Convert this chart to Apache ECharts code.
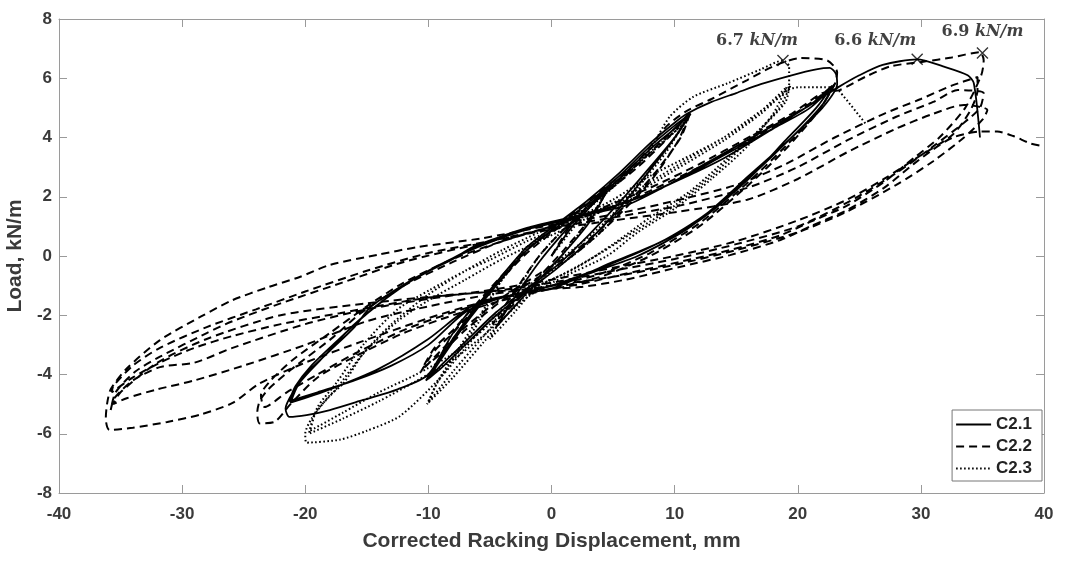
<!DOCTYPE html>
<html>
<head>
<meta charset="utf-8">
<script src="https://cdn.jsdelivr.net/npm/echarts@6.0.0/dist/echarts.min.js"></script>
<style>
html,body{margin:0;padding:0;background:#fff;}
#chart{width:1065px;height:563px;}
</style>
</head>
<body>
<div id="chart"></div>
<script>
// ---- data (displacement mm, load kN/m) ----
const seriesNames = ['C2.1', 'C2.2', 'C2.3'];

const c21 = [
[0,0],[1.5,0.9],[3,1.6],[4.5,2.2],[3,1.1],[1,0.1],[-1,-0.8],[-3,-1.7],[-4.5,-2.4],[-3,-1.4],[-1,-0.2],[1,0.8],
[3,1.7],[5.5,2.6],[8,3.6],[10,4.3],[11.2,4.75],[10,4.0],[8,3.0],[5.5,1.8],[3,0.7],[0.5,-0.3],[-2,-1.1],[-4.5,-1.9],[-7,-2.9],[-9,-3.7],[-10,-4.15],
[-9,-3.5],[-7,-2.3],[-4.5,-1.0],[-2,0.2],[0.5,1.0],[3,1.8],[5.5,2.7],[8,3.7],[10,4.4],[11.3,4.8],[10.2,4.1],[8,2.9],[5.5,1.6],[3,0.5],[0.5,-0.4],[-2,-1.2],[-4.5,-2.0],[-7,-3.0],[-9,-3.8],[-10.2,-4.2],
[-9,-3.4],[-7,-2.2],[-4.5,-0.9],[-2,0.3],[0.5,1.1],[3,1.9],[5.5,2.8],[8,3.8],[10,4.5],[11,4.8],
[13,5.2],[15,5.5],[17,5.8],[19.5,6.1],[21.5,6.3],[22.6,6.35],[23.1,6.15],[23.2,5.8],
[22,5.0],[20,4.2],[17,3.0],[14,1.9],[11,0.9],[7,0.0],[3,-0.6],[0,-1.1],[-3,-1.3],[-6,-1.6],[-8,-2.6],[-10,-4.0],[-12.5,-4.5],[-15.3,-4.86],[-18,-5.2],[-19.9,-5.37],[-21.3,-5.43],[-21.6,-5.15],
[-21,-4.6],[-20,-4.0],[-18,-3.2],[-16,-2.4],[-14.7,-1.72],[-12.5,-1.1],[-10.9,-0.7],[-8,-0.1],[-6.4,0.3],[-3,0.8],[0,1.1],[2.3,1.35],[6,1.7],[9,2.3],[12,3.0],[15,3.7],[18,4.4],[21,5.1],[22.8,5.75],
[21.5,5.0],[19,3.9],[16,2.6],[12,1.2],[8,0.3],[4,-0.4],[0,-1.0],[-4,-1.4],[-7,-1.9],[-10,-3.0],[-13,-3.7],[-16,-4.2],[-19,-4.6],[-21.3,-4.9],
[-20.8,-4.4],[-19.5,-3.7],[-17.5,-2.9],[-15,-1.95],[-12,-1.0],[-9,-0.3],[-6,0.35],[-2,0.95],[2,1.35],[6,1.8],[10,2.5],[14,3.4],[18,4.3],[21,5.0],[23,5.8],
[22,5.1],[19.5,4.0],[16,2.7],[12.5,1.4],[9,0.5],[5,-0.2],[1,-0.9],[-3,-1.3],[-6.5,-1.7],[-10,-2.8],[-14,-3.8],[-18,-4.5],[-21.2,-4.95],
[-20.5,-4.3],[-18.5,-3.4],[-16,-2.3],[-13,-1.3],[-10,-0.5],[-6,0.3],[-2,0.9],[2,1.3],[6,1.8],[10,2.5],[14,3.3],[18,4.3],[21,5.1],[23.3,5.7],
[25,6.1],[26.9,6.45],[29.7,6.64],[31.8,6.4],[33.8,6.1],[34.3,5.83],[34.8,4.0]
];

const c22 = [
[0,0],[1.5,1.0],[3,1.7],[4.8,2.4],[3,1.2],[1,0.2],[-1,-0.7],[-3,-1.6],[-4.8,-2.3],[-3,-1.2],[-1,0.0],[1,0.9],
[4,2.0],[7,3.0],[9.5,4.0],[11.3,4.9],[10.5,4.0],[8,2.6],[5,1.3],[2,0.2],[-1,-0.6],[-4,-1.4],[-7,-2.4],[-9,-3.2],[-10.6,-3.9],
[-9.5,-3.2],[-8,-2.6],[-5,-1.2],[-2,0.1],[1,1.1],[4,2.1],[7,3.1],[9.5,4.1],[11.2,4.8],[10.3,3.9],[8,2.5],[5,1.2],[2,0.1],[-1,-0.7],[-4,-1.5],[-7,-2.5],[-9,-3.3],[-10.5,-3.8],
[-9.5,-3.1],[-8,-2.5],[-5,-1.1],[-2,0.2],[1,1.2],[4,2.2],[7,3.2],[9.4,4.4],
[11,4.9],[13,5.3],[15.9,5.94],[18,6.4],[20.2,6.68],[22.4,6.6],[23.2,6.2],[23,5.8],
[21.5,4.8],[19,3.6],[16,2.4],[12,1.0],[8,0.0],[4,-0.7],[0,-1.1],[-4,-1.5],[-8,-2.0],[-12,-2.6],[-16,-3.4],[-19,-4.1],[-21.2,-5.0],[-22.5,-5.6],[-23.7,-5.65],[-23.9,-5.3],
[-23.7,-4.9],[-23,-4.5],[-21.2,-3.85],[-17.7,-2.73],[-15.5,-1.93],[-12,-1.0],[-8,-0.2],[-4,0.5],[0,1.0],[4,1.5],[8,2.2],[12,3.0],[16,3.9],[19,4.6],[21.5,5.3],[23,5.8],
[21.7,4.9],[19,3.7],[16,2.5],[12,1.1],[8,0.1],[4,-0.6],[0,-1.0],[-4,-1.4],[-8,-1.9],[-12,-2.5],[-16,-3.3],[-19,-4.0],[-21.5,-4.6],[-23.3,-5.1],[-23.6,-4.7],
[-22.8,-4.2],[-21,-3.5],[-18,-2.6],[-15,-1.7],[-12,-0.9],[-8,-0.1],[-4,0.5],[0,1.0],[4,1.6],[8,2.3],[12,3.1],[16,4.0],[19.5,4.8],[22,5.5],
[23.4,5.6],[25.5,6.05],[27.5,6.4],[30.2,6.56],[32.5,6.7],[34.8,6.88],[35.1,6.6],[34.9,6.1],
[33.6,5.0],[31.5,4.0],[29.4,3.3],[27,2.5],[24,1.7],[21,1.15],[18.6,0.7],[14.5,0.2],[10.4,-0.2],[6,-0.6],[2.3,-0.95],[-2,-1.25],[-6,-1.6],[-10,-2.1],[-15.5,-2.9],[-20,-3.6],[-23.7,-4.3],[-25.9,-4.96],[-28.5,-5.35],[-31.2,-5.6],[-34,-5.8],[-35.9,-5.87],[-36.2,-5.5],
[-36.1,-5.0],[-35.8,-4.5],[-34.5,-3.8],[-31.8,-2.84],[-28.5,-2.05],[-25.9,-1.49],[-23,-1.05],[-20.4,-0.7],[-18,-0.3],[-14,0.05],[-10.9,0.3],[-5.6,0.6],[0,1.05],[5,1.4],[10.4,1.9],[15,2.4],[19,3.1],[23,4.0],[27,4.8],[30,5.3],[32.5,5.75],[34.6,6.04],
[34.6,5.6],[34,4.9],[32.6,4.1],[30,3.4],[27,2.6],[24,1.9],[20,1.2],[15,0.5],[10,0.0],[5,-0.4],[0,-0.8],[-5,-1.15],[-10,-1.45],[-15,-1.8],[-20,-2.3],[-25.9,-3.1],[-29,-3.6],[-31.8,-3.75],[-34,-4.2],[-35.5,-4.8],[-35.8,-5.2],
[-35.4,-4.6],[-33.8,-3.9],[-31.8,-3.4],[-28,-2.6],[-25.9,-2.2],[-22,-1.6],[-17,-0.9],[-12,-0.2],[-6,0.4],[0,0.95],[5,1.3],[10.4,1.7],[15.9,2.3],[20,3.0],[24,3.9],[28,4.7],[31,5.2],[33,5.6],[35.1,5.5],
[34.8,5.0],[33.5,4.5],[31,3.7],[28,2.8],[24,1.8],[20,1.0],[15,0.4],[10,-0.1],[5,-0.5],[0,-0.9],[-5,-1.2],[-10,-1.4],[-17.2,-1.93],[-22,-2.3],[-25.9,-2.7],[-29,-3.1],[-31.8,-3.6],[-34,-4.1],[-35.7,-4.6],
[-35.6,-4.4],[-34,-3.7],[-31.8,-3.1],[-28,-2.4],[-24,-1.8],[-20,-1.2],[-15,-0.5],[-10,0.1],[-5,0.5],[0,0.9],[5,1.2],[10.4,1.5],[15.9,1.9],[20,2.6],[24,3.5],[28,4.3],[31,4.8],[33.5,5.1],[35.4,4.93],
[35,4.6],[33.5,4.0],[31,3.2],[28,2.4],[24,1.5],[20,0.8],[15,0.2],[10,-0.3],[5,-0.7],[0,-1.0],[-5,-1.3],[-10,-1.7],[-15,-2.2],[-20,-3.0],[-25,-3.7],[-29,-4.2],[-32,-4.5],[-34.5,-4.8],[-35.6,-5.0],
[-35,-4.6],[-32,-3.6],[-28,-2.8],[-22,-2.0],[-15,-1.6],[-8,-1.3],[-3,-1.15],[2.3,-1.05],[6,-0.8],[10.4,-0.37],[14.5,0.03],[18.6,0.54],[21,1.0],[24,1.55],[27,2.3],[29.4,3.1],[31,3.6],[32.6,4.0],[34.8,4.2],[36.2,4.2],[37.5,4.05],[38.9,3.8],[40,3.7]
];

const c23 = [
[0,0],[1.5,0.8],[3,1.6],[5,2.5],[3,1.2],[1,0.1],[-1,-0.9],[-3,-1.9],[-5,-2.8],[-3,-1.3],[-1,0.0],[1,0.9],
[3,1.6],[5.5,2.5],[8,3.5],[10,4.2],[11,4.6],[9.5,3.7],[7,2.4],[4.5,1.2],[2,0.3],[-0.5,-0.5],[-3,-1.5],[-5.5,-2.7],[-8,-3.9],[-10.1,-5.0],
[-9.3,-4.3],[-7.5,-3.2],[-5.8,-2.16],[-4.2,-0.9],[-2,0.3],[1,1.1],[4,2.0],[7,3.1],[9.5,4.0],[10.8,4.5],[9.3,3.5],[7,2.3],[4.5,1.0],[2,0.1],[-0.5,-0.7],[-3,-1.7],[-5.5,-2.9],[-8,-4.1],[-10,-4.95],
[-9.2,-4.2],[-7.5,-3.1],[-5.8,-2.0],[-4,-0.8],[-1.5,0.4],[1.5,1.2],[4,2.0],
[6,2.7],[8,3.6],[9.6,4.7],[11.5,5.37],[14.3,5.83],[17,6.3],[18.8,6.6],[19.3,6.4],[19.3,5.8],[19,5.2],
[17,4.3],[14.3,3.3],[11.3,2.2],[8,1.3],[5,0.4],[2,-0.4],[-1,-1.0],[-3,-1.5],[-5.2,-2.27],[-7,-3.1],[-9,-4.1],[-12.3,-5.4],[-15,-5.9],[-17.2,-6.2],[-19.9,-6.3],[-20,-6.0],
[-19.5,-5.5],[-18,-4.7],[-16.9,-4.3],[-15.3,-3.3],[-13,-2.3],[-10,-1.3],[-7,-0.5],[-4,0.2],[-1,0.8],[2,1.3],[5,1.9],[8,2.7],[11.3,3.4],[14,4.0],[16,4.6],[18,5.2],[19.4,5.75],
[18.5,5.0],[16,3.9],[13,2.7],[10,1.7],[7,0.9],[4,0.1],[1,-0.6],[-2,-1.2],[-5,-2.3],[-8,-3.3],[-11,-4.0],[-14,-4.6],[-17,-5.3],[-19.6,-5.9],
[-19,-5.1],[-17.5,-4.3],[-15.3,-3.0],[-12.5,-1.8],[-9.9,-1.15],[-7,-0.5],[-5,-0.13],[-2,0.5],[2,1.2],[6,2.0],[10,3.0],[14,4.0],[16.5,4.7],[19.1,5.7],
[18,4.8],[15.9,3.7],[13,2.6],[10,1.6],[7,0.8],[4.5,0.0],[1,-0.7],[-2,-1.4],[-5,-2.5],[-8,-3.5],[-10.9,-4.2],[-14,-4.9],[-17,-5.5],[-19.7,-6.0],
[-19.2,-5.3],[-17.5,-4.5],[-15.3,-3.3],[-12.5,-2.2],[-10,-1.5],[-7,-0.8],[-4,-0.1],[-1,0.5],[2,1.1],[6,1.9],[10,2.9],[14,3.9],[17,4.8],[19.2,5.6],[20.2,5.7],[22.9,5.7],[23.4,5.55],[25.6,4.42]
];

// peak markers (x) and their labels
const peakX = [18.8, 29.7, 35.0];
const peakY = [6.6, 6.64, 6.85];
const peakValues = ['6.7', '6.6', '6.9'];
const peakUnit = 'kN/m';

// axes
const xMin = -40, xMax = 40, xStep = 10;
const yMin = -8, yMax = 8, yStep = 2;
const xTitle = 'Corrected Racking Displacement, mm';
const yTitle = 'Load, kN/m';

// ---- chart ----
const labelOffsets = [[-26, -20], [-42, -18], [0, -21]];
const axisGray = '#9a9a9a';
const textGray = '#3a3a3a';
const sansFont = 'Liberation Sans, Arial, sans-serif';

const chart = echarts.init(document.getElementById('chart'), null, {renderer: 'canvas'});

function baseAxis(extra) {
  return Object.assign({
    type: 'value',
    axisLine: {show: true, onZero: false, lineStyle: {color: axisGray, width: 1}},
    axisTick: {show: true, inside: true, length: 8, lineStyle: {color: axisGray}},
    splitLine: {show: false}
  }, extra);
}

const lineStyles = [
  {type: 'solid', width: 1.8},
  {type: [8, 5], width: 2},
  {type: [1.6, 2.4], width: 2}
];
const lineData = [c21, c22, c23];

const series = seriesNames.map((n, i) => ({
  name: n,
  type: 'line',
  data: lineData[i],
  showSymbol: false,
  symbol: 'none',
  smooth: 0.25,
  lineStyle: Object.assign({color: '#000'}, lineStyles[i]),
  itemStyle: {color: '#000'},
  emphasis: {disabled: true},
  z: 3 - i
}));

series.push({
  name: 'peaks',
  type: 'scatter',
  data: peakX.map((x, i) => ({
    value: [x, peakY[i]],
    label: {offset: labelOffsets[i]}
  })),
  symbol: 'path://M0,0L10,10M10,0L0,10',
  symbolSize: 11,
  itemStyle: {color: 'rgba(0,0,0,0)', borderColor: '#000', borderWidth: 1.4},
  label: {
    show: true,
    position: 'inside',
    align: 'center',
    verticalAlign: 'middle',
    formatter: p => '{n|' + peakValues[p.dataIndex] + ' }{u|' + peakUnit + '}',
    rich: {
      n: {fontFamily: 'DejaVu Serif', fontWeight: 'bold', fontSize: 16, color: '#111'},
      u: {fontFamily: 'DejaVu Serif', fontWeight: 'bold', fontStyle: 'italic', fontSize: 16, color: '#111'}
    }
  },
  z: 10
});

chart.setOption({
  animation: false,
  backgroundColor: '#fff',
  grid: {left: 59, right: 21, top: 19, bottom: 70, outerBoundsMode: 'none', containLabel: false},
  legend: {
    data: seriesNames,
    orient: 'vertical',
    right: 23,
    top: 410,
    itemWidth: 35,
    itemHeight: 12,
    itemGap: 5,
    padding: [6, 10, 4, 3],
    borderColor: '#777',
    borderWidth: 1,
    backgroundColor: '#fff',
    itemStyle: {opacity: 0},
    textStyle: {fontFamily: sansFont, fontWeight: 'bold', fontSize: 17, color: '#222'}
  },
  xAxis: [
    baseAxis({
      position: 'bottom', min: xMin, max: xMax, interval: xStep,
      axisLabel: {color: textGray, fontWeight: 'bold', fontSize: 17, fontFamily: sansFont, margin: 13},
      name: xTitle, nameLocation: 'middle', nameGap: 38,
      nameTextStyle: {fontSize: 21, fontWeight: 'bold', color: textGray, fontFamily: sansFont}
    }),
    baseAxis({position: 'top', min: xMin, max: xMax, interval: xStep, axisLabel: {show: false}})
  ],
  yAxis: [
    baseAxis({
      position: 'left', min: yMin, max: yMax, interval: yStep,
      axisLabel: {color: textGray, fontWeight: 'bold', fontSize: 17, fontFamily: sansFont, margin: 7},
      name: yTitle, nameLocation: 'middle', nameGap: 25, nameRotate: 90,
      nameTextStyle: {fontSize: 21, fontWeight: 'bold', color: textGray, fontFamily: sansFont}
    }),
    baseAxis({position: 'right', min: yMin, max: yMax, interval: yStep, axisLabel: {show: false}})
  ],
  series: series
});
</script>
</body>
</html>
